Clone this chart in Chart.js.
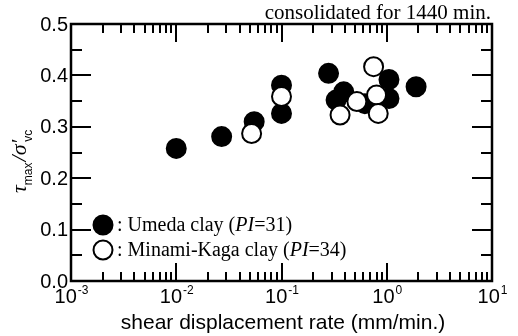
<!DOCTYPE html>
<html lang="en">
<head>
<meta charset="UTF-8">
<script src="https://cdn.jsdelivr.net/npm/chart.js@4"></script>
</head>
<body style="margin:0">
<canvas id="c" width="518" height="336"></canvas>
<script>
// Umeda clay (PI=31), filled circles
const rateUmeda  = [0.01, 0.027, 0.055, 0.1, 0.1, 0.28, 0.33, 0.39, 0.62, 1.05, 1.05, 1.9];
const ratioUmeda = [0.258, 0.281, 0.31, 0.381, 0.326, 0.404, 0.352, 0.368, 0.345, 0.392, 0.355, 0.378];

// Minami-Kaga clay (PI=34), open circles
const rateMinami  = [0.052, 0.1, 0.36, 0.52, 0.75, 0.8, 0.83];
const ratioMinami = [0.287, 0.359, 0.323, 0.349, 0.417, 0.362, 0.326];

// axis ticks
const yTicks = [0.0, 0.1, 0.2, 0.3, 0.4, 0.5];
const xDecades = [-3, -2, -1, 0, 1];

const toPoints = (xv, yv) => xv.map((x, i) => ({ x: x, y: yv[i] }));

const SANS = '"Liberation Sans", Arial, sans-serif';
const SERIF = '"Liberation Serif", "Times New Roman", serif';

const plug = {
    id: 'dbg',
    afterDraw(chart) {
        const ctx = chart.ctx;
        const a = chart.chartArea;
        const xs = chart.scales.x;
        const ys = chart.scales.y;
        ctx.save();
        ctx.fillStyle = '#000';

        // labels first
        ctx.font = '20px ' + SANS;
        ctx.textAlign = 'right';
        ctx.textBaseline = 'middle';
        yTicks.forEach(t => {
            ctx.fillText(t.toFixed(1), a.left - 3, ys.getPixelForValue(t) + 1);
        });
        ctx.textBaseline = 'alphabetic';
        ctx.textAlign = 'left';
        xDecades.forEach(n => {
            const px = xs.getPixelForValue(Math.pow(10, n));
            ctx.font = '20px ' + SANS;
            const wBase = ctx.measureText('10').width;
            ctx.font = '12px ' + SANS;
            const exp = n < 0 ? '-' + (-n) : String(n);
            const wExp = ctx.measureText(exp).width;
            const x0 = px - (wBase + wExp) / 2;
            ctx.font = '20px ' + SANS;
            ctx.fillText('10', x0, 303);
            ctx.font = '12px ' + SANS;
            ctx.fillText(exp, x0 + wBase + 1, 294);
        });
        ctx.font = '21px ' + SANS;
        ctx.textAlign = 'center';
        ctx.fillText('shear displacement rate (mm/min.)', 283, 329);
        ctx.font = '21px ' + SERIF;
        ctx.textAlign = 'right';
        ctx.fillText('consolidated for 1440 min.', a.right - 1, 19);

        ctx.save();
        ctx.translate(26, 193);
        ctx.rotate(-Math.PI / 2);
        ctx.textAlign = 'left';
        let cx = 0;
        ctx.font = 'italic 22px ' + SERIF;
        ctx.fillText('\u03c4', cx, 0);
        cx += ctx.measureText('\u03c4').width;
        ctx.font = '12px ' + SANS;
        ctx.fillText('max', cx, 6);
        cx += ctx.measureText('max').width + 1;
        ctx.font = 'italic 22px ' + SERIF;
        ctx.fillText('/\u03c3\u2032', cx, 0);
        cx += ctx.measureText('/\u03c3\u2032').width - 2;
        ctx.font = '12px ' + SANS;
        ctx.fillText('vc', cx, 6);
        ctx.restore();

        // legend
        const legend = [
            { fill: '#000', y: 225, label: ': Umeda clay (', pi: 'PI', tail: '=31)' },
            { fill: '#fff', y: 250, label: ': Minami-Kaga clay (', pi: 'PI', tail: '=34)' }
        ];
        legend.forEach(item => {
            ctx.beginPath();
            ctx.arc(103, item.y, 9.5, 0, Math.PI * 2);
            ctx.fillStyle = item.fill;
            ctx.fill();
            ctx.lineWidth = 2;
            ctx.strokeStyle = '#000';
            ctx.stroke();
            ctx.fillStyle = '#000';
            ctx.textAlign = 'left';
            let lx = 117;
            const by = item.y + 6;
            ctx.font = '20px ' + SERIF;
            ctx.fillText(item.label, lx, by);
            lx += ctx.measureText(item.label).width;
            ctx.font = 'italic 20px ' + SERIF;
            ctx.fillText(item.pi, lx, by);
            lx += ctx.measureText(item.pi).width;
            ctx.font = '20px ' + SERIF;
            ctx.fillText(item.tail, lx, by);
        });

        // frame and inward ticks last
        ctx.fillStyle = '#000';
        for (let d = -3; d <= 0; d++) {
            for (let m = 1; m <= 9; m++) {
                const px = Math.round(xs.getPixelForValue(m * Math.pow(10, d)));
                const len = m === 1 ? 18 : 9;
                ctx.fillRect(px - 1, a.bottom - len, 2, len);
                ctx.fillRect(px - 1, a.top, 2, len);
            }
        }
        for (let k = 0; k <= 10; k++) {
            const py = Math.round(ys.getPixelForValue(k * 0.05));
            const len = k % 2 === 0 ? 20 : 11;
            ctx.fillRect(a.left, py - 1, len, 2);
            ctx.fillRect(a.right - len, py - 1, len, 2);
        }
        ctx.strokeStyle = '#000';
        ctx.lineWidth = 2.5;
        ctx.strokeRect(a.left, a.top, a.right - a.left, a.bottom - a.top);
        ctx.restore();
    }
};

new Chart(document.getElementById('c').getContext('2d'), {
    type: 'scatter',
    data: {
        datasets: [
            {
                // lower order is drawn last, so open circles sit over the filled ones
                data: toPoints(rateMinami, ratioMinami),
                backgroundColor: '#fff',
                borderColor: '#000',
                borderWidth: 2,
                pointRadius: 9.5,
                order: 0
            },
            {
                data: toPoints(rateUmeda, ratioUmeda),
                backgroundColor: '#000',
                borderColor: '#000',
                borderWidth: 2,
                pointRadius: 9.5,
                order: 1
            }
        ]
    },
    options: {
        responsive: false, animation: false,
        layout: { padding: { left: 71, right: 26, top: 24, bottom: 55 } },
        plugins: { legend: { display: false }, tooltip: { enabled: false } },
        scales: {
            x: { type: 'logarithmic', min: 0.001, max: 10, display: false },
            y: { min: 0, max: 0.5, display: false }
        }
    },
    plugins: [plug]
});
</script>
</body>
</html>
